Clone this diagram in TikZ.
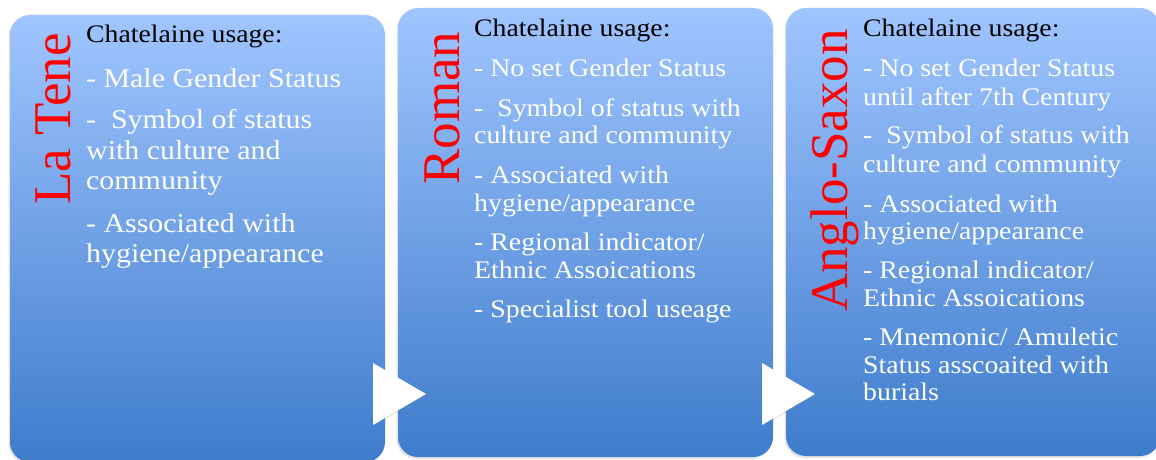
\documentclass[tikz,border=0pt]{standalone}
\usepackage{fontspec}
\setmainfont[FakeStretch=1.1]{Liberation Serif}
\newfontfamily\titlefont{Liberation Serif}
\usetikzlibrary{shadows}
\definecolor{boxtop}{RGB}{160,197,255}
\definecolor{boxbot}{RGB}{62,124,204}
\begin{document}
\begin{tikzpicture}[x=1pt,y=-1pt,
  panel/.style={rounded corners=20pt, top color=boxtop, bottom color=boxbot, draw=none,
    drop shadow={opacity=0.2, shadow xshift=-1.5pt, shadow yshift=-2pt}},
  arrowtri/.style={fill=white, draw=none, drop shadow={opacity=0.2, shadow xshift=1pt, shadow yshift=-1pt}},
  head/.style={anchor=base west, inner sep=0pt, text=black, font=\fontsize{25.2}{30}\selectfont},
  body/.style={anchor=base west, inner sep=0pt, text=white, font=\fontsize{25.3}{30}\selectfont},
  bigbody/.style={body, font=\fontsize{27.2}{32}\selectfont},
  title/.style={anchor=base west, inner sep=0pt, rotate=90, text=red, font=\titlefont\fontsize{53}{60}\selectfont}]
\useasboundingbox (0,0) rectangle (1156,460);
\fill[white] (0,0) rectangle (1156,460);
% panels
\path[panel] (10,15) rectangle (385,462);
\path[panel] (398,8) rectangle (773,457);
\path[panel] (786,8) rectangle (1160,456);
% arrows
\path[arrowtri] (373,363) -- (426,394) -- (373,425) -- cycle;
\path[arrowtri] (762,363) -- (815,394) -- (762,425) -- cycle;
% titles
\node[title] (t1) at (70,205) {La Tene};
\node[title] (t2) at (459,185) {Roman};
\node[title] (t3) at (847,312) {Anglo-Saxon};
% panel 1
\node[head] (h1) at (86,43) {Chatelaine usage:};
\node[bigbody] (a1) at (86,87) {- Male Gender Status};
\node[bigbody] (a2) at (86,128) {-~~Symbol of status};
\node[bigbody] (a3) at (86,159) {with culture and};
\node[bigbody] (a4) at (86,189) {community};
\node[bigbody] (a5) at (86,232) {- Associated with};
\node[bigbody] (a6) at (86,262) {hygiene/appearance};
% panel 2
\node[head] (h2) at (474,37) {Chatelaine usage:};
\node[body] (b1) at (474,77) {- No set Gender Status};
\node[body] (b2) at (474,116) {-~~Symbol of status with};
\node[body] (b3) at (474,143) {culture and community};
\node[body] (b4) at (474,183) {- Associated with};
\node[body] (b5) at (474,211) {hygiene/appearance};
\node[body] (b6) at (474,250) {- Regional indicator/};
\node[body] (b7) at (474,278) {Ethnic Assoications};
\node[body] (b8) at (474,317) {- Specialist tool useage};
% panel 3
\node[head] (h3) at (863,37) {Chatelaine usage:};
\node[body] (c1) at (863,77) {- No set Gender Status};
\node[body] (c2) at (863,105) {until after 7th Century};
\node[body] (c3) at (863,143) {-~~Symbol of status with};
\node[body] (c4) at (863,172) {culture and community};
\node[body] (c5) at (863,212) {- Associated with};
\node[body] (c6) at (863,239) {hygiene/appearance};
\node[body] (c7) at (863,278) {- Regional indicator/};
\node[body] (c8) at (863,306) {Ethnic Assoications};
\node[body] (c9) at (863,345) {- Mnemonic/ Amuletic};
\node[body] (c10) at (863,373) {Status asscoaited with};
\node[body] (c11) at (863,400) {burials};
\end{tikzpicture}
\end{document}
